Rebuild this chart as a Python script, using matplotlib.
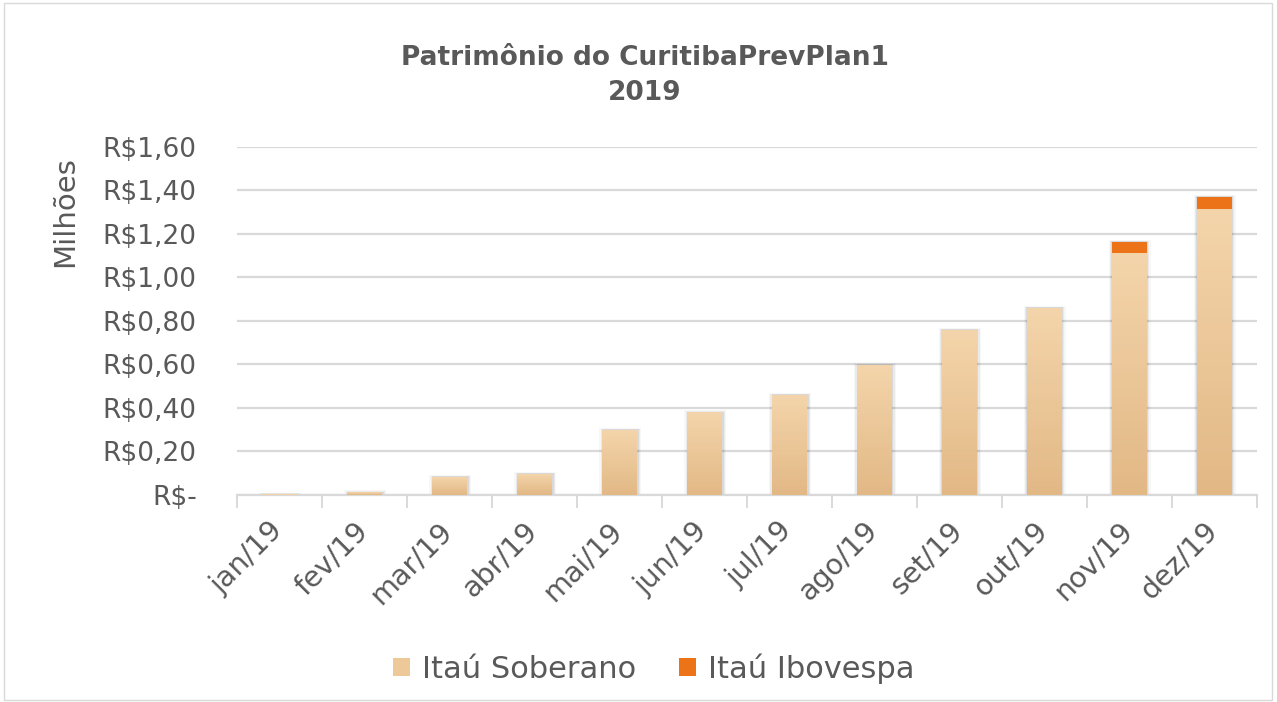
import numpy as np
import matplotlib
matplotlib.use("Agg")
import matplotlib.pyplot as plt
from matplotlib.patches import Patch, Rectangle
from matplotlib.colors import LinearSegmentedColormap
from matplotlib.ticker import FuncFormatter
from matplotlib.transforms import ScaledTranslation

meses = ["jan/19", "fev/19", "mar/19", "abr/19", "mai/19", "jun/19",
         "jul/19", "ago/19", "set/19", "out/19", "nov/19", "dez/19"]
soberano = [0.002, 0.013, 0.083, 0.098, 0.299, 0.381, 0.460, 0.598, 0.760, 0.860, 1.114, 1.316]
ibovespa = [0, 0, 0, 0, 0, 0, 0, 0, 0, 0, 0.050, 0.055]
yticks = [0, 0.2, 0.4, 0.6, 0.8, 1.0, 1.2, 1.4, 1.6]

cinza = "#595959"
plt.rcParams['font.family'] = ['DejaVu Sans']

fig = plt.figure(figsize=(12.77, 7.02), dpi=100)
ax = fig.add_axes([0.1856, 0.295, 0.7985, 0.4956])

grad = LinearSegmentedColormap.from_list("g", ["#E2B885", "#F3D4AA"])
x = np.arange(len(meses))
w = 0.41
sob = np.array(soberano)
ibo = np.array(ibovespa)
total = sob + ibo

# sombra difusa atras das barras
for k, a in [(0.08, 0.03), (0.05, 0.05), (0.025, 0.07)]:
    ax.bar(x + 0.008, total + k * 0.1, width=w + k, color="#000000", alpha=a,
           lw=0, zorder=2)

# degradê do Itaú Soberano em fatias
n = 40
for k in range(n):
    ax.bar(x, sob / n, bottom=sob * k / n, width=w, color=grad(k / (n - 1)),
           lw=0, zorder=3, antialiased=False)
ax.bar(x, ibo, bottom=sob, width=w, color="#EC7317", lw=0, zorder=3)

ax.set_xlim(-0.5, len(meses) - 0.5)
ax.set_ylim(0, 1.6)
ax.set_yticks(yticks)
ax.yaxis.set_major_formatter(FuncFormatter(
    lambda v, p: "R$-" if v == 0 else "R$" + f"{v:.2f}".replace(".", ",")))
ax.tick_params(axis="y", length=0, pad=29, labelsize=19, labelcolor=cinza)
ax.grid(axis="y", color="#D9D9D9", lw=1.6, zorder=0)
ax.set_axisbelow(True)

ax.set_xticks(x)
ax.set_xticklabels(meses, rotation=45, ha="right", rotation_mode="anchor",
                   fontsize=20.5, color=cinza)
ax.set_xticks(np.arange(-0.5, len(meses)), minor=True)
ax.tick_params(axis="x", which="major", length=0, pad=14)
ax.tick_params(axis="x", which="minor", length=9, width=1.4, color="#D9D9D9")
desloc = ScaledTranslation(-0.11, -0.02, fig.dpi_scale_trans)
for lbl in ax.get_xticklabels():
    lbl.set_transform(lbl.get_transform() + desloc)

for sp in ["top", "right", "left"]:
    ax.spines[sp].set_visible(False)
ax.spines["bottom"].set_color("#D9D9D9")
ax.spines["bottom"].set_linewidth(1.6)

fig.text(0.051, 0.698, "Milhões", rotation=90, ha="center", va="center",
         fontsize=21, color=cinza)
fig.text(0.505, 0.893, "Patrimônio do CuritibaPrevPlan1\n2019", ha="center",
         va="center", fontsize=19, fontweight="bold", color=cinza, linespacing=1.45)

handles = [Patch(facecolor="#EDC898", label="Itaú Soberano"),
           Patch(facecolor="#EC7317", label="Itaú Ibovespa")]
fig.legend(handles=handles, loc="center", bbox_to_anchor=(0.512, 0.048), ncol=2,
           frameon=False, fontsize=22, labelcolor=cinza, handlelength=0.55,
           handleheight=0.55, columnspacing=1.4, handletextpad=0.4)

fig.add_artist(Rectangle((0.003, 0.003), 0.993, 0.993, transform=fig.transFigure,
                         fill=False, ec="#D9D9D9", lw=1))

fig.savefig("out.png", dpi=100)
